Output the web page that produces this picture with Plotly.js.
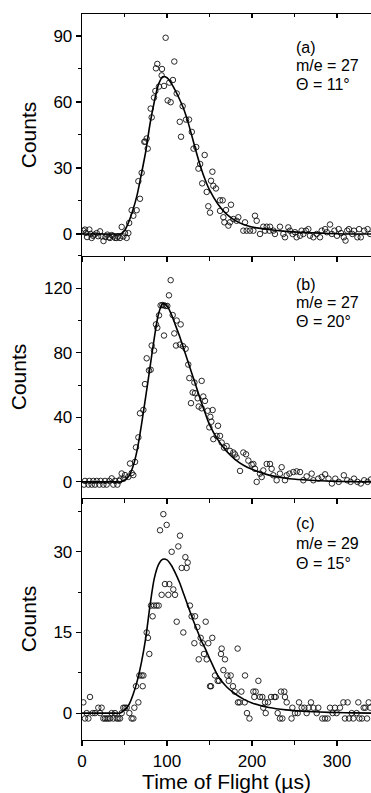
<!DOCTYPE html>
<html>
<head>
<meta charset="utf-8">
<script src="https://cdn.plot.ly/plotly-3.0.1.min.js"></script>
<style>html,body{margin:0;padding:0;background:#fff;}#chart{width:371px;height:793px;}</style>
</head>
<body>
<div id="chart"></div>
<script>
// ---------- Panel (a): m/e = 27, Θ = 11° ----------
const aX = [1.5,3.5,4.5,5.9,8.6,10,11.4,13,14.5,17.3,19,21.2,23,25.3,27.6,29.8,31.5,32.9,35,36.9,38.8,40.8,42.7,44.7,46.7,48.6,50.6,52.5,54.5,
  55.5,58.4,60.4,64.3,66.3,68.2,70.2,73.3,74.5,76.1,77.3,80.8,82,84.7,86.3,87,88.6,90.6,93.7,94.1,96.5,98.4,100.8,102.7,104.3,107,108.6,111.4,115,116.5,118.4,122.4,125.9,129.2,131.2,134.4,137,139,141.4,144.3,146.7,148.6,150.6,
  151.8,153.4,154.5,157.6,162.4,165.5,162.4,166.3,169.4,175.3,167.5,172.2,174.1,178,181.9,183.9,189.8,191.8,193.7,197.6,201.6,203.5,205.5,209.4,
  213.3,215.3,217.3,220.4,221.2,225.1,227,232.9,236.9,238.8,242.7,244.7,247.8,250.6,252.5,256.5,258.4,260.4,263.5,266.3,268.2,272.2,276.1,280,282,286,288,291.8,294,297,300,302,304.7,308,310,312,314,318,320,324,326,328,332,336,339];
const aY = [1.5,2,0.5,-1.4,2,0,-1.8,-0.8,-0.3,0.4,-1,1.2,-1.1,-3.2,-1.4,-0.3,-1.5,-1.8,-0.5,-1.1,-1.8,-1.8,-1.1,-1.8,3.2,-1.1,0.4,-1.8,0.4,
  5,10.8,8.3,10.8,24,16,27.8,41.9,42,43.4,38.8,57,53,62,65,75.3,77.3,67,72.1,75,67.3,89.2,60.7,68.8,59.9,70,78.4,63.9,51,44.2,58.1,52,52,46.4,38.8,39.5,29.7,31.8,23,35.9,19.1,12.6,9.7,
  24.2,28.3,21.9,20.7,15.3,15.3,10.5,7.6,10.9,13.3,5.3,3.8,5.3,6.8,6,7.6,1.5,5.3,1.5,1.5,1.5,8.3,6,0,
  3.3,1.5,3.3,1.5,3.3,1.5,0,3.3,0,-1.5,3,1.5,0,0.8,-1.5,-0.8,1.5,0,1.5,2.2,-0.8,-1.5,0,-1.5,1.5,2.2,0.8,4.3,0,1.5,-0.8,2.2,0.4,-1.5,-3,1.5,2.2,0,1.5,-1.5,2.2,-1.5,1.5,2.2,0];

// ---------- Panel (b): m/e = 27, Θ = 20° ----------
const bX = [2.4,3.5,7.5,8.6,11.4,13.3,15.3,17.3,20.4,21.9,25.1,27.1,29,32.2,34.9,36.9,38.8,41.6,43.9,45,
  46.7,49,50.6,54.5,56.5,58.5,60.4,62.4,63.5,66.3,68.2,72.2,74.1,76.1,78.8,80.8,82,84.7,87,88.6,90.6,92.5,94.5,96.5,98.5,100.4,96.5,102.3,104.3,106.7,108.6,111.4,116.1,110.6,115.3,118.8,121.9,125,126.3,132.2,140.8,130.2,132.9,128.2,136.1,142.7,137.3,144.7,140.8,147.9,149.8,
  153.7,151,152.2,160,154.5,158.4,162.4,164.3,167.1,170.2,174.1,178,180,181.9,185.9,189.8,193,195.7,199.6,201.6,203.5,205.5,209.4,211.4,213.3,217.3,221.2,223.1,225.1,229,232.9,234.9,238.8,240.8,244,248.6,252.5,256.5,260.4,264.3,270.2,272.2,278,282,286,290,294,298,302,308,312,316,320,324,328,332,336,340];
const bY = [-1.7,0.6,-1.7,0.6,-1.7,0.6,-1.7,0.6,-1.7,0.6,-1.7,0.6,-1.7,0.6,2.2,-1.7,0.6,-1.7,0.6,1.5,
  5.2,2,4.2,3.1,11.4,5.5,4.2,12.4,21.4,27.6,42.5,44.6,60.6,76.6,69.1,69.5,84.5,81.4,97.6,95.5,103.2,109.4,109.6,109.4,109,109,90.7,115.6,125,103.4,92,100,97.6,84.5,85.1,84.1,82.5,72.7,64.3,61.6,62.6,55.4,55,48.8,51.8,52.9,46.7,50.2,45.6,44.1,33.8,
  44.5,40.3,37.3,34.8,26.5,28.5,28.5,24.4,21.2,22.2,19.2,18.2,17,15.1,6.8,18.2,17.1,13.2,10.7,11.1,8.1,0,5.1,3,7.1,11.1,11.1,8.1,4.1,1,5.1,9.1,1,4.1,5.1,6.1,6.5,6.1,1,3.4,5.1,1,2,3,4.7,2,-1,2,0,4.1,1,0,2,0,-1,1,0,1.5];

// ---------- Panel (c): m/e = 29, Θ = 15° ----------
const cX = [1.6,3.5,5.5,7.5,9.4,12.5,15.3,19.2,21.2,23.1,25.1,27,29,31,33,34.9,36.9,38.8,40.8,42.7,44.7,46.7,48.6,50.5,52.5,55.7,58.4,60.4,61.6,
  63.5,66.3,67.5,70.2,71.4,72.2,76.1,77.6,79.2,81.2,83.1,84.7,87.8,90.2,91.8,93.7,95.7,97.6,99.6,101.6,102.7,105.5,107.4,109.4,111.4,113.3,115.3,117.3,119.2,121.6,123.1,124.3,127,129,132.2,133,135.7,137.3,139.6,141.9,143.5,145.5,146.7,148.6,150.6,
  151.8,153.3,156.5,159.6,161.2,163.5,164.3,166.3,168.2,171,172.6,174.9,177.6,179.6,183.1,183.5,187.5,185.5,191.4,191.8,194.1,197,201.6,202.7,204.3,207.5,209.4,212.2,213.3,215.3,216.1,218.8,222.4,226.3,227.9,230.2,232.9,234.1,235.7,238,238.8,240.8,
  246.5,247.5,250.6,253.7,255.3,258.4,261.6,264.3,266.7,269.4,272.2,276.1,278,282.7,285.9,289,291.8,294.9,297.6,299.6,303.5,307.5,309.4,312.5,314.1,317.3,319.2,323.1,325.1,326.3,329.4,331.4,333.3,335.3,337.3,339.2];
const cY = [2,-1,0,-1,3,0,0,1,0,1,-1,-1,-1,-1,-1,0,-1,0,-1,-1,-1,0,1,1,1,0,-1,-1,1,
  5,2,7,7,5,7,15,14,11,20,18,20,20,20,34,22,37,24,35,22,24,30,23,22,17,31,33,27,15,29,27,28,20,18,13,18,16,10,14,13,11,17,10,13,5,
  5,14,7,6,6,11,12,8,10,7,6,7,5,4,12,2,4,2,2,7,0,-1,4,3,4,6,3,3,1,2,0,2,3,3,3,0,-1,4,-1,4,3,2,
  -1,1,0,0,2,1,1,0,1,2,1,0,1,-1,-1,-1,1,0,1,0,1,2,-1,2,-1,0,-1,0,2,-1,-1,1,1,-1,2,1];

// ---------- Fitted curves ----------
const fitX = [0,10,20,30,40,45,50,55,60,65,70,75,80,85,90,95,100,105,110,115,120,125,130,135,140,145,150,160,170,180,190,200,220,240,260,280,300,320,340];
const fitA = [0,0,0,0,0,0,1.5,5.5,11,18,27.5,37.5,50,60,68,71.5,71,68.5,65,61,56.5,50.5,43.5,36.5,30,24.5,20,13.5,9,6.2,4.3,3.2,2,1.2,0.7,0.4,0.1,0,0];
const fitB = [0,0,0,0,0,0,1,3.5,9.5,20,35.5,53,71,89,104,110.5,109,104,97,90,82,74,66,58,50,42.5,35.5,26,19,14,10.3,7.8,4.2,2.3,1.3,0.7,0.35,0.1,0];
const fitC = [0,0,0,0,0,0,0.6,1.5,3.4,6,9.5,14,20,25,27.6,28.6,28.5,27.5,26,24.2,22,19.8,17.6,15.6,13.6,12,10.2,6.9,4.9,3.6,2.6,1.9,1.05,0.6,0.35,0.2,0.1,0.05,0];

const panelLabels = ['(a)','(b)','(c)'];
const massLabels = ['m/e = 27','m/e = 27','m/e = 29'];
const angleLabels = ['\u0398 = 11\u00B0','\u0398 = 20\u00B0','\u0398 = 15\u00B0'];
const yTitle = 'Counts';
const xTitle = 'Time of Flight (\u00B5s)';

const FONT = 'Liberation Sans, Arial, sans-serif';
const marker = {symbol:'circle-open', size:5.5, color:'#111', line:{width:0.9, color:'#111'}};
const fitLine = {color:'#000', width:1.6, shape:'spline', smoothing:0.8};

const traces = [
  {x:aX, y:aY, xaxis:'x3', yaxis:'y3', mode:'markers', marker:marker, type:'scatter'},
  {x:fitX, y:fitA, xaxis:'x3', yaxis:'y3', mode:'lines', line:fitLine, type:'scatter'},
  {x:bX, y:bY, xaxis:'x2', yaxis:'y2', mode:'markers', marker:marker, type:'scatter'},
  {x:fitX, y:fitB, xaxis:'x2', yaxis:'y2', mode:'lines', line:fitLine, type:'scatter'},
  {x:cX, y:cY, xaxis:'x', yaxis:'y', mode:'markers', marker:marker, type:'scatter'},
  {x:fitX, y:fitC, xaxis:'x', yaxis:'y', mode:'lines', line:fitLine, type:'scatter'},
  {x:[], y:[], xaxis:'x4', yaxis:'y3', mode:'markers', type:'scatter'}
];

function xAx(anchor, labels){
  return {
    anchor:anchor, range:[0,340], showgrid:false, zeroline:false,
    showline:true, linecolor:'#000', linewidth:1.3,
    ticks:'outside', ticklen:5, tickwidth:1.2, tickcolor:'#000', dtick:100, tick0:0,
    minor:{dtick:50, ticks:'outside', ticklen:4, tickwidth:1, tickcolor:'#000'},
    showticklabels:labels, tickfont:{family:FONT, size:17, color:'#000'}
  };
}
function yAx(domain, range, dtick, minor){
  return {
    domain:domain, range:range, showgrid:false, zeroline:false,
    showline:true, linecolor:'#000', linewidth:1.3,
    ticks:'outside', ticklen:5, tickwidth:1.2, tickcolor:'#000', dtick:dtick, tick0:0,
    minor:{dtick:minor, ticks:'outside', ticklen:3, tickwidth:1, tickcolor:'#000'},
    tickfont:{family:FONT, size:17, color:'#000'},
    title:{text:yTitle, font:{family:FONT, size:21, color:'#000'}, standoff:11}
  };
}

const xa = xAx('y', true);
xa.title = {text:xTitle, font:{family:FONT, size:21, color:'#000'}, standoff:11};
const x4 = xAx('y3', false);
x4.overlaying = 'x3'; x4.side = 'top'; x4.ticks = 'inside'; x4.ticklen = 4;
x4.minor = {dtick:50, ticks:'inside', ticklen:3, tickwidth:1, tickcolor:'#000'};

const annY = [[0.862,0.786,0.71],[0.881,0.806,0.729],[0.893,0.814,0.731]];
const yrefs = ['y3 domain','y2 domain','y domain'];
const annotations = [];
for (let i=0;i<3;i++){
  [panelLabels[i], massLabels[i], angleLabels[i]].forEach((t,j)=>{
    annotations.push({text:t, xref:'paper', x:0.735, yref:yrefs[i], y:annY[i][j],
      xanchor:'left', yanchor:'middle', showarrow:false,
      font:{family:FONT, size:16, color:'#000'}});
  });
}

const layout = {
  width:371, height:793,
  margin:{l:82, r:0, t:14, b:53},
  paper_bgcolor:'#fff', plot_bgcolor:'#fff',
  showlegend:false,
  font:{family:FONT, color:'#000'},
  xaxis: xa,
  xaxis2: xAx('y2', false),
  xaxis3: xAx('y3', false),
  xaxis4: x4,
  yaxis: yAx([0,0.3333],[-5,40],15,7.5),
  yaxis2: yAx([0.3333,0.6667],[-10,140],40,20),
  yaxis3: yAx([0.6667,1],[-10,100],30,15),
  annotations: annotations
};

Plotly.newPlot('chart', traces, layout, {staticPlot:true, displayModeBar:false});
</script>
</body>
</html>
